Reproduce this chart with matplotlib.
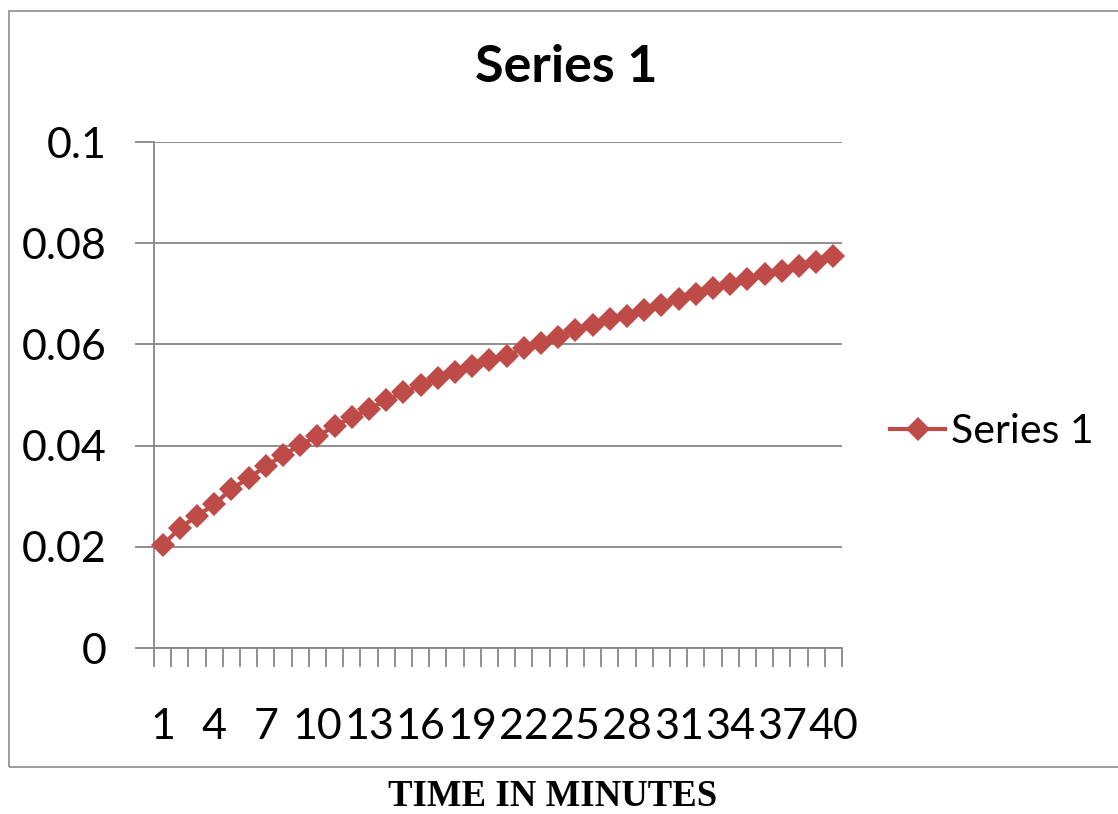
import matplotlib
matplotlib.use("Agg")
import matplotlib.pyplot as plt
from matplotlib.patches import Rectangle
from matplotlib.ticker import FixedLocator, NullFormatter

# Series values per minute
minutes = list(range(1, 41))
series_1 = [
    0.0203, 0.0237, 0.0261, 0.0284, 0.0314, 0.0336, 0.0359, 0.0381, 0.0401, 0.0419,
    0.0438, 0.0456, 0.0472, 0.0490, 0.0505, 0.0519, 0.0533, 0.0545, 0.0557, 0.0569,
    0.0578, 0.0592, 0.0602, 0.0614, 0.0628, 0.0638, 0.0650, 0.0657, 0.0667, 0.0677,
    0.0689, 0.0699, 0.0711, 0.0719, 0.0730, 0.0740, 0.0746, 0.0754, 0.0762, 0.0774,
]
x_labels = [str(m) for m in minutes[::3]]
y_ticks = [0, 0.02, 0.04, 0.06, 0.08, 0.1]
y_labels = ["0", "0.02", "0.04", "0.06", "0.08", "0.1"]

W, H = 1118, 814
RED = "#BE4B48"
GRAY = "#878787"
SANS = "Lato"

fig = plt.figure(figsize=(W / 100, H / 100), dpi=100)
fig.patch.set_facecolor("white")

# outer chart frame
fig.patches.append(Rectangle((9 / W, 1 - 767 / H), (1130 - 9) / W, (767 - 11) / H,
                             transform=fig.transFigure, fill=False,
                             edgecolor="#8c8c8c", linewidth=1.2, clip_on=False))

ax = fig.add_axes([154 / W, 1 - 648 / H, (842 - 154) / W, (648 - 142) / H])
ax.plot(minutes, series_1, color=RED, linewidth=3.0, marker="D",
        markersize=12.5, markeredgewidth=0, label="Series 1", zorder=3, clip_on=False)

ax.set_xlim(0.5, len(minutes) + 0.5)
ax.set_ylim(0, 0.1)

# category axis: boundary ticks, labels on every third category
ax.xaxis.set_major_locator(FixedLocator([i + 0.5 for i in range(0, len(minutes) + 1)]))
ax.xaxis.set_major_formatter(NullFormatter())
ax.xaxis.set_minor_locator(FixedLocator(minutes[::3]))
ax.set_xticklabels(x_labels, minor=True, fontsize=31, family=SANS)
ax.tick_params(axis="x", which="major", direction="out", length=14, width=1.3, color=GRAY)
ax.tick_params(axis="x", which="minor", length=0, pad=43)

ax.set_yticks(y_ticks)
ax.set_yticklabels(y_labels, fontsize=31, family=SANS)
ax.tick_params(axis="y", direction="out", length=14, width=1.3, color=GRAY, pad=20)

ax.grid(axis="y", color=GRAY, linewidth=1.3)
ax.set_axisbelow(True)
for side in ("top", "right"):
    ax.spines[side].set_visible(False)
for side in ("left", "bottom"):
    ax.spines[side].set_color(GRAY)
    ax.spines[side].set_linewidth(1.3)

fig.text(566 / W, 1 - 68 / H, "Series 1", ha="center", va="center",
         fontsize=37.5, fontweight="bold", family=SANS)

fig.legend(loc="center left", bbox_to_anchor=(890 / W, 1 - 432 / H), frameon=False,
           prop={"family": SANS, "size": 29.5}, handlelength=1.35, handletextpad=0.15,
           borderaxespad=0, borderpad=0)

fig.text(553 / W, 1 - 797 / H, "TIME IN MINUTES", ha="center", va="center",
         fontsize=26.5, fontweight="bold", family="Liberation Serif")

fig.savefig("out.png", dpi=100)
